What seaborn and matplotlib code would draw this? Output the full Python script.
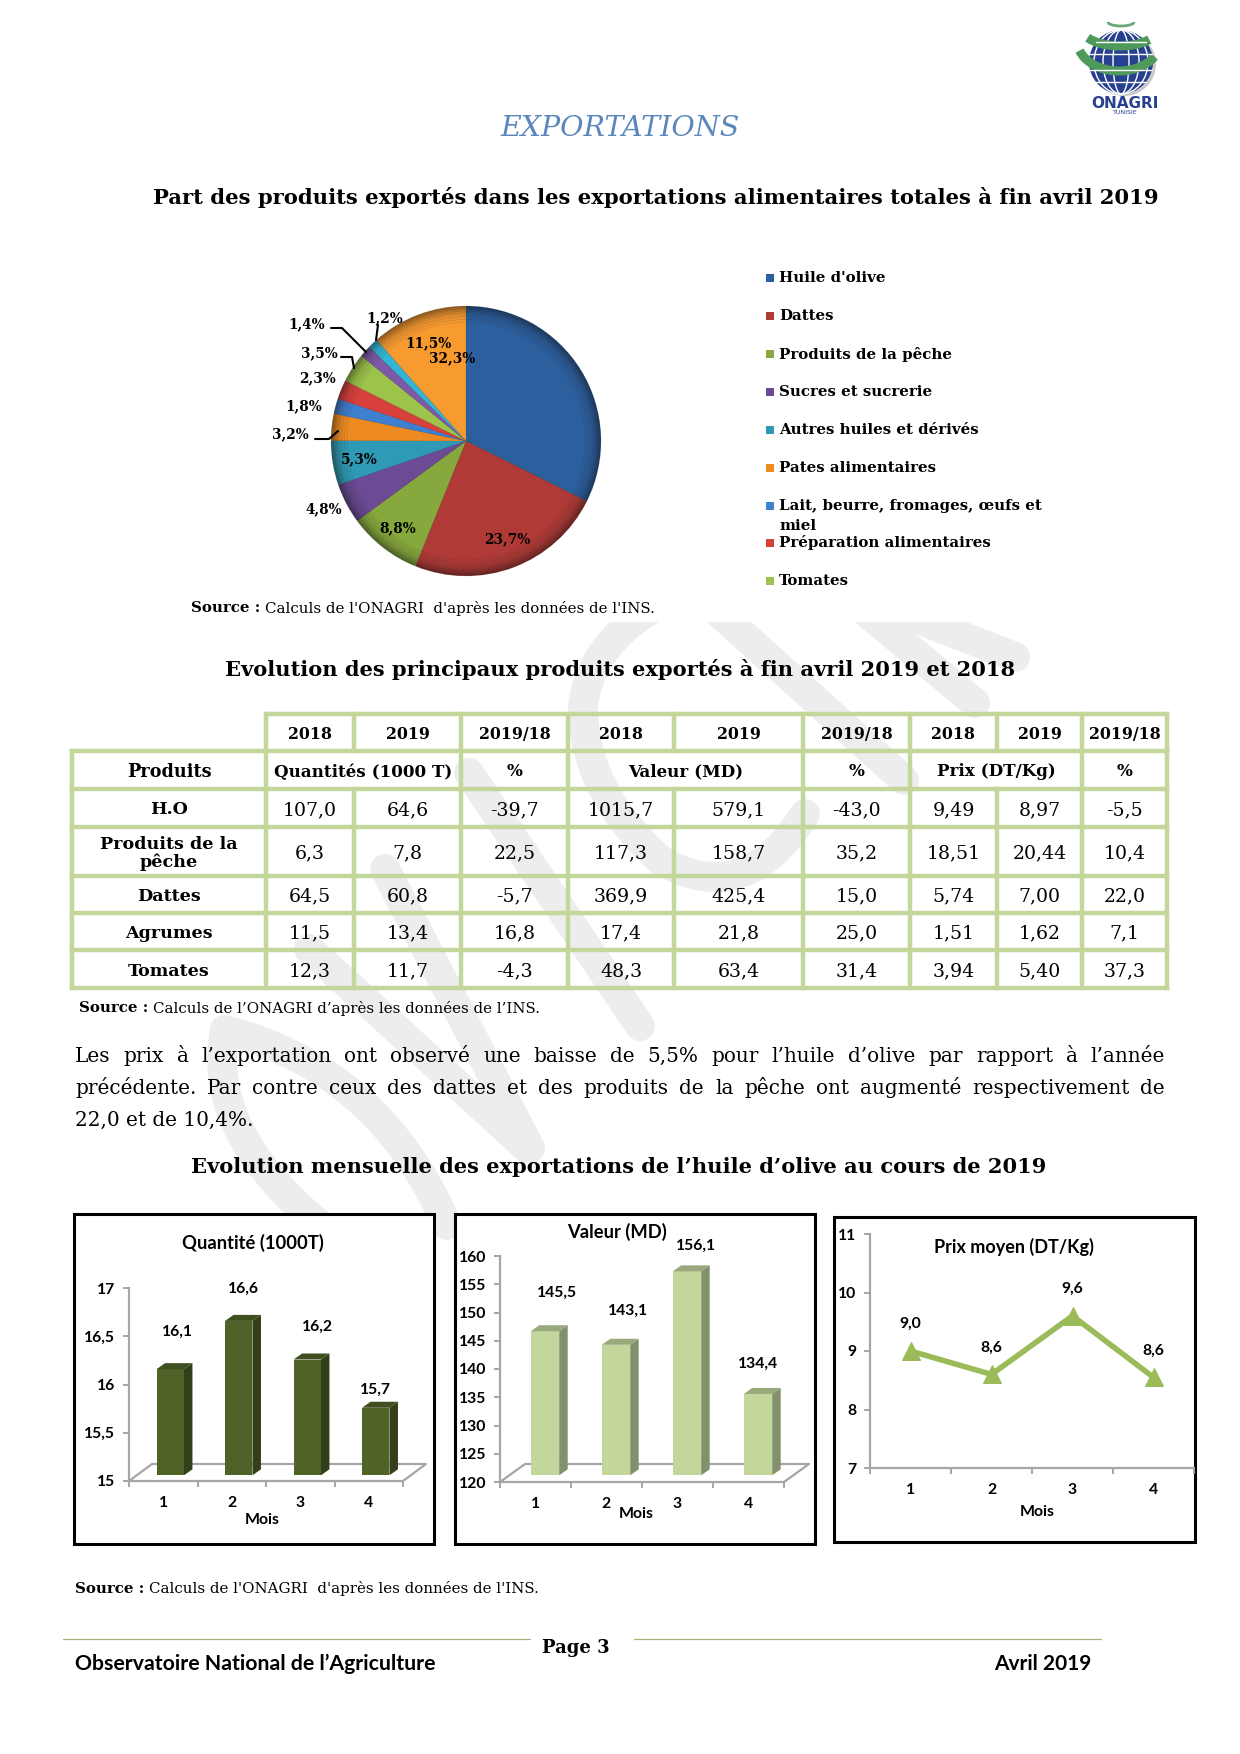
import numpy as np
import pandas as pd
import matplotlib
matplotlib.use('Agg')
import matplotlib.pyplot as plt
import seaborn as sns
from matplotlib.patches import Polygon, Circle, Ellipse, Arc, Rectangle, PathPatch
from matplotlib.path import Path
from matplotlib.transforms import Affine2D, IdentityTransform
from matplotlib.colors import to_rgb

# pie
pie_labels = ["32,3%", "23,7%", "8,8%", "4,8%", "5,3%", "3,2%", "1,8%", "2,3%", "3,5%", "1,4%", "1,2%", "11,5%"]
pie_values = [32.3, 23.7, 8.8, 4.8, 5.3, 3.2, 1.8, 2.3, 3.5, 1.4, 1.2, 11.5]
pie_colors = ['#2c5f9e', '#b03a36', '#86a83c', '#6c4a94', '#2f9ab5', '#ee8a22',
              '#3f7fd0', '#d8403c', '#9cc34a', '#7d5aa8', '#33b5d5', '#f79a30']
legend_names = ["Huile d'olive", "Dattes", "Produits de la pêche", "Sucres et sucrerie",
                "Autres huiles et dérivés", "Pates alimentaires",
                "Lait, beurre, fromages, œufs et\nmiel", "Préparation alimentaires", "Tomates"]

# table
table_years = ["2018", "2019", "2019/18", "2018", "2019", "2019/18", "2018", "2019", "2019/18"]
products = ["H.O", "Produits de la\npêche", "Dattes", "Agrumes", "Tomates"]
table_rows = [
    ["107,0", "64,6", "-39,7", "1015,7", "579,1", "-43,0", "9,49", "8,97", "-5,5"],
    ["6,3", "7,8", "22,5", "117,3", "158,7", "35,2", "18,51", "20,44", "10,4"],
    ["64,5", "60,8", "-5,7", "369,9", "425,4", "15,0", "5,74", "7,00", "22,0"],
    ["11,5", "13,4", "16,8", "17,4", "21,8", "25,0", "1,51", "1,62", "7,1"],
    ["12,3", "11,7", "-4,3", "48,3", "63,4", "31,4", "3,94", "5,40", "37,3"],
]

# monthly charts
months = ["1", "2", "3", "4"]
quantite = [16.1, 16.6, 16.2, 15.7]
quantite_labels = ["16,1", "16,6", "16,2", "15,7"]
valeur = [145.5, 143.1, 156.1, 134.4]
valeur_labels = ["145,5", "143,1", "156,1", "134,4"]
prix = [9.0, 8.6, 9.6, 8.55]
prix_labels = ["9,0", "8,6", "9,6", "8,6"]

W, H = 1240, 1754
SERIF = 'DejaVu Serif'
CAL = 'Lato'
GREY = '#a6a6a6'

sns.set_theme(style='white')
plt.rcParams['font.family'] = ['DejaVu Sans']
plt.rcParams['text.color'] = 'black'
plt.rcParams['xtick.color'] = 'black'
plt.rcParams['ytick.color'] = 'black'
fig = plt.figure(figsize=(12.4, 17.54), dpi=100, facecolor='white')

# page layer in pixel coordinates, y going down
page = fig.add_axes([0, 0, 1, 1], zorder=0)
page.set_xlim(0, W)
page.set_ylim(H, 0)
page.axis('off')
renderer = fig.canvas.get_renderer()


def box(x0, y0, x1, y1):
    return [x0 / W, 1 - y1 / H, (x1 - x0) / W, (y1 - y0) / H]


def put(x, y, s, size=11, weight='normal', ha='center', family=SERIF, **kw):
    if family == SERIF:
        y = y + 2
    return page.text(x, y, s, fontsize=size, fontweight=weight, ha=ha, va='center', family=family, **kw)


# watermark, hand drawn strokes of the grey logo behind the text
L, Q = Path.LINETO, Path.CURVE3
strokes = [
    ([(225, 1030), (205, 1130), (320, 1225)], [Q, Q]),
    ([(225, 1030), (380, 1070), (447, 1225)], [Q, Q]),
    ([(309, 949), (527, 1148)], [L]),
    ([(385, 869), (530, 1148)], [L]),
    ([(469, 773), (640, 1026)], [L]),
    ([(667, 600), (590, 640), (583, 707), (583, 790), (660, 860), (745, 910), (805, 814)], [Q] * 6),
    ([(716, 610), (904, 780)], [L]),
    ([(866, 612), (975, 703)], [L]),
    ([(900, 612), (1015, 657)], [L]),
]
clip = Rectangle((0, 622), W, H - 622, transform=page.transData)
for pts, codes in strokes:
    patch = PathPatch(Path(pts, [Path.MOVETO] + codes), fc='none', ec='#ededed', lw=21.5,
                      capstyle='round', joinstyle='round', zorder=0)
    page.add_patch(patch)
    patch.set_clip_path(clip)

# logo
gx, gy, gr = 1121, 62, 32
page.add_patch(Circle((gx + 3, gy + 2), gr, fc='#c9c9c9', ec='none'))
page.add_patch(Circle((gx, gy), gr, fc='#27408f', ec='none'))
for w in [16, 36, 54]:
    page.add_patch(Ellipse((gx, gy), w, gr * 2, fc='none', ec='white', lw=1))
for dy in [-20, -8, 8, 20]:
    half = np.sqrt(gr ** 2 - dy ** 2)
    page.plot([gx - half, gx + half], [gy + dy, gy + dy], color='white', lw=1)
page.add_patch(Arc((gx - 1, 26), 80, 40, theta1=25, theta2=160, color='#4f9a5b', lw=6.5))
page.add_patch(Arc((gx - 2, 40), 84, 62, theta1=25, theta2=165, color='#4f9a5b', lw=6.5))
page.add_patch(Arc((gx, 22), 26, 8, theta1=0, theta2=180, color='#6aa878', lw=2))
put(1125, 104, 'ONAGRI', size=11, weight='bold', family='DejaVu Sans', color='#27408f')
put(1125, 113, 'TUNISIE', size=4.5, family='DejaVu Sans', color='#27408f')

# titles and text
put(620, 127, 'EXPORTATIONS', size=20.5, style='italic', color='#5b86bd')
put(656, 195, 'Part des produits exportés dans les exportations alimentaires totales à fin avril 2019', size=15.2, weight='bold')
put(620, 668, 'Evolution des principaux produits exportés à fin avril 2019 et 2018', size=15.15, weight='bold')
put(619, 1165, "Evolution mensuelle des exportations de l’huile d’olive au cours de 2019", size=15.1, weight='bold')


def source(x, y, tail):
    t = put(x, y, 'Source :', size=10.8, weight='bold', ha='left')
    x1 = t.get_window_extent(renderer).x1 + 5
    put(x1, y, tail, size=10.8, ha='left')


source(191, 606, "Calculs de l'ONAGRI  d'après les données de l'INS.")
source(79, 1006, "Calculs de l’ONAGRI d’après les données de l’INS.")
source(75, 1587, "Calculs de l'ONAGRI  d'après les données de l'INS.")

# justified paragraph
para = ["Les prix à l’exportation ont observé une baisse de 5,5% pour l’huile d’olive par rapport à l’année",
        "précédente. Par contre ceux des dattes et des produits de la pêche ont augmenté respectivement de"]
for line, y in zip(para, [1054, 1086]):
    words = line.split(' ')
    items = [put(75, y, w, size=14.4, ha='left') for w in words]
    widths = [i.get_window_extent(renderer).width for i in items]
    gap = (1165 - 75 - sum(widths)) / (len(words) - 1)
    x = 75
    for i, w in zip(items, widths):
        i.set_x(x)
        x += w + gap
put(75, 1118, '22,0 et de 10,4%.', size=14.4, ha='left')

# pie: nested passes give the darker rim
pie_ax = fig.add_axes(box(331, 306, 601, 576), zorder=2)
for frac, mix in zip([1.0, 0.99, 0.98, 0.97, 0.96, 0.95, 0.94, 0.92, 0.9, 0.88],
                     [0.6, 0.66, 0.72, 0.78, 0.83, 0.87, 0.91, 0.94, 0.97, 1.0]):
    shaded = [tuple(c * mix for c in to_rgb(col)) for col in pie_colors]
    pie_ax.pie(pie_values, colors=shaded, startangle=90, counterclock=False, radius=frac,
               wedgeprops=dict(edgecolor=(0.25, 0.25, 0.25, 0.25), linewidth=0.3))
pie_ax.set_xlim(-1, 1)
pie_ax.set_ylim(-1, 1)

label_pos = [(452, 357), (507, 538), (398, 527), (324, 508), (359, 458), (290, 433),
             (304, 405), (317, 377), (319, 352), (307, 323), (385, 317), (428, 342)]
text_layer = fig.add_axes([0, 0, 1, 1], zorder=3)
text_layer.set_xlim(0, W)
text_layer.set_ylim(H, 0)
text_layer.axis('off')
for s, (x, y) in zip(pie_labels, label_pos):
    text_layer.text(x, y + 1, s, fontsize=9.8, fontweight='bold', ha='center', va='center', family=SERIF)
for xs, ys in [([378, 376], [325, 340]), ([331, 342, 366], [328, 328, 352]),
               ([341, 352, 354], [357, 357, 368]), ([315, 329, 338], [439, 439, 431])]:
    text_layer.plot(xs, ys, color='black', lw=1.5)

legend_y = [276, 314, 352, 390, 428, 466, 504, 541, 579]
for name, col, y in zip(legend_names, pie_colors, legend_y):
    page.add_patch(Rectangle((766, y - 2), 8, 8, fc=col, ec='none'))
    if '\n' in name:
        first, second = name.split('\n')
        put(779, y, first, size=10.8, weight='bold', ha='left')
        put(779, y + 20, second, size=10.8, weight='bold', ha='left')
    else:
        put(779, y, name, size=10.8, weight='bold', ha='left')

# table grid
col_x = [266, 354, 461, 568, 674, 803, 910, 997, 1082, 1167]
row_y = [714, 751, 789, 827, 876, 913, 950, 988]
left = 72
GRID = dict(color='#c3d69b', lw=3.2, solid_capstyle='projecting', zorder=1)
page.plot([col_x[0], col_x[-1]], [row_y[0]] * 2, **GRID)
for y in row_y[1:]:
    page.plot([left, col_x[-1]], [y, y], **GRID)
page.plot([left, left], [row_y[1], row_y[-1]], **GRID)
for i, x in enumerate(col_x):
    page.plot([x, x], [row_y[0], row_y[1]], **GRID)
    if x in (354, 674, 997):
        page.plot([x, x], [row_y[2], row_y[-1]], **GRID)
    else:
        page.plot([x, x], [row_y[1], row_y[-1]], **GRID)

for j, s in enumerate(table_years):
    put((col_x[j] + col_x[j + 1]) / 2, (row_y[0] + row_y[1]) / 2, s, size=11.4, weight='bold')
mid2 = (row_y[1] + row_y[2]) / 2
put((left + col_x[0]) / 2, mid2, 'Produits', size=12.7, weight='bold')
for a, b, s in [(0, 2, 'Quantités (1000 T)'), (2, 3, '%'), (3, 5, 'Valeur (MD)'),
                (5, 6, '%'), (6, 8, 'Prix (DT/Kg)'), (8, 9, '%')]:
    put((col_x[a] + col_x[b]) / 2, mid2, s, size=12.1, weight='bold')
for i, (name, row) in enumerate(zip(products, table_rows)):
    ym = (row_y[i + 2] + row_y[i + 3]) / 2
    put((left + col_x[0]) / 2, ym, name, size=12.6, weight='bold', linespacing=1.1)
    for j, s in enumerate(row):
        put((col_x[j] + col_x[j + 1]) / 2, ym, s, size=13.6)

# footer
page.plot([63, 530], [1639, 1639], color='#a9b17c', lw=0.9)
page.plot([634, 1101], [1639, 1639], color='#a9b17c', lw=0.9)
put(576, 1646, 'Page 3', size=13, weight='bold')
put(75, 1664, "Observatoire National de l’Agriculture", size=15.3, weight='bold', ha='left', family=CAL)
put(994, 1664, 'Avril 2019', size=15, weight='bold', ha='left', family=CAL)

# chart frames
for x0, y0, x1, y1 in [(74, 1214, 434, 1544), (455, 1214, 815, 1544), (834, 1217, 1195, 1542)]:
    page.add_patch(Rectangle((x0, y0), x1 - x0, y1 - y0, fc='white', ec='black', lw=2.2, zorder=2))


def style_axis(ax, ticks, ticklabels):
    sns.despine(ax=ax, top=True, right=True)
    for sp in ['left', 'bottom']:
        ax.spines[sp].set_color(GREY)
        ax.spines[sp].set_linewidth(1.6)
    ax.patch.set_alpha(0)
    ax.set_yticks(ticks)
    ax.set_yticklabels(ticklabels, fontsize=11.3, fontweight='bold', family=CAL)
    ax.set_xticks([-0.5, 0.5, 1.5, 2.5, 3.5])
    ax.set_xticklabels([])
    ax.tick_params(axis='both', which='major', left=True, bottom=True, length=4, width=1.4, color=GREY, pad=6)
    ax.set_xlabel('')
    ax.set_ylabel('')
    for i, m in enumerate(months):
        ax.annotate(m, (i, 0), xycoords=('data', 'axes fraction'), xytext=(0, -15), textcoords='offset pixels',
                    ha='center', va='top', fontsize=11.3, fontweight='bold', family=CAL)


def bars3d(area, lim, values, labels, ticks, ticklabels, front, side, top, shift, depth, floor, label_up):
    x0, y_top, x1, y_base = area
    ax = fig.add_axes(box(x0, y_top, x1, y_base), zorder=4)
    df = pd.DataFrame({'mois': months, 'v': values})
    sns.barplot(data=df, x='mois', y='v', color=front, saturation=1, width=0.4, ax=ax)
    ax.set_xlim(-0.5, 3.5)
    ax.set_ylim(*lim)
    style_axis(ax, ticks, ticklabels)
    fig.canvas.draw()
    to_px = ax.transData + Affine2D().translate(*shift)
    # floor of the 3D box
    (ax0, ay0), (ax1, ay1) = ax.transAxes.transform([(0, 0), (1, 0)])
    ff = [(ax0, ay0), (ax0 + floor[0], ay0 + floor[1]), (ax1 + floor[0], ay1 + floor[1]), (ax1, ay1)]
    ax.add_line(plt.Line2D(*zip(*ff), color=GREY, lw=1.6, transform=IdentityTransform(), clip_on=False, zorder=1))
    for p, lab, up in zip(ax.patches, labels, label_up):
        bx, bw, bh = p.get_x(), p.get_width(), p.get_height()
        (px0, py0), (px1, py1) = to_px.transform([(bx, lim[0]), (bx + bw, bh)])
        dx, dy = depth
        p.set_visible(False)
        faces = [([(px0, py0), (px1, py0), (px1, py1), (px0, py1)], front),
                 ([(px1, py0), (px1 + dx, py0 + dy), (px1 + dx, py1 + dy), (px1, py1)], side),
                 ([(px0, py1), (px1, py1), (px1 + dx, py1 + dy), (px0 + dx, py1 + dy)], top)]
        for verts, col in faces:
            ax.add_patch(Polygon(verts, fc=col, ec='none', transform=IdentityTransform(), clip_on=False, zorder=3))
        ax.annotate(lab, ((px0 + px1) / 2 + up[0], py1 + up[1]), xycoords=IdentityTransform(),
                    ha='center', va='center', fontsize=11.3, fontweight='bold', family=CAL, zorder=5)
    return ax


ax1 = bars3d((129, 1288, 403, 1481), (15, 17), quantite, quantite_labels,
             [15, 15.5, 16, 16.5, 17], ['15', '15,5', '16', '16,5', '17'],
             '#4f6228', '#333f18', '#3f4f20', (7, 5.7), (8.5, 6), (23, 17),
             [(7, 37), (5, 32), (10, 33), (0, 18)])
put(253, 1243, 'Quantité (1000T)', size=13.2, weight='bold', family=CAL, zorder=5)
put(262, 1520, 'Mois', size=11.4, weight='bold', family=CAL, zorder=5)

ax2 = bars3d((500, 1256, 784, 1482), (120, 160), valeur, valeur_labels,
             list(range(120, 161, 5)), [str(v) for v in range(120, 161, 5)],
             '#c3d69b', '#83906c', '#9aa97c', (9.5, 6.7), (8.5, 6), (25, 18),
             [(12, 38), (12, 34), (9, 26), (0, 30)])
put(617, 1232, 'Valeur (MD)', size=13.2, weight='bold', family=CAL, zorder=5)
put(636, 1514, 'Mois', size=11.4, weight='bold', family=CAL, zorder=5)

# line chart
ax3 = fig.add_axes(box(870, 1234, 1194, 1468), zorder=4)
df3 = pd.DataFrame({'mois': months, 'v': prix})
sns.lineplot(data=df3, x='mois', y='v', sort=False, color='#9bbb59', lw=4, marker='^', markersize=13,
             markeredgecolor='#9bbb59', ax=ax3, clip_on=False)
ax3.set_xlim(-0.5, 3.5)
ax3.set_ylim(7, 11)
style_axis(ax3, [7, 8, 9, 10, 11], ['7', '8', '9', '10', '11'])
for i, (v, s) in enumerate(zip(prix, prix_labels)):
    ax3.annotate(s, (i, v), xytext=(0, 27), textcoords='offset pixels', ha='center', va='center',
                 fontsize=11.3, fontweight='bold', family=CAL)
put(1014, 1247, 'Prix moyen (DT/Kg)', size=13, weight='bold', family=CAL, zorder=5)
put(1037, 1512, 'Mois', size=11.4, weight='bold', family=CAL, zorder=5)

fig.savefig('out.png', dpi=100)
